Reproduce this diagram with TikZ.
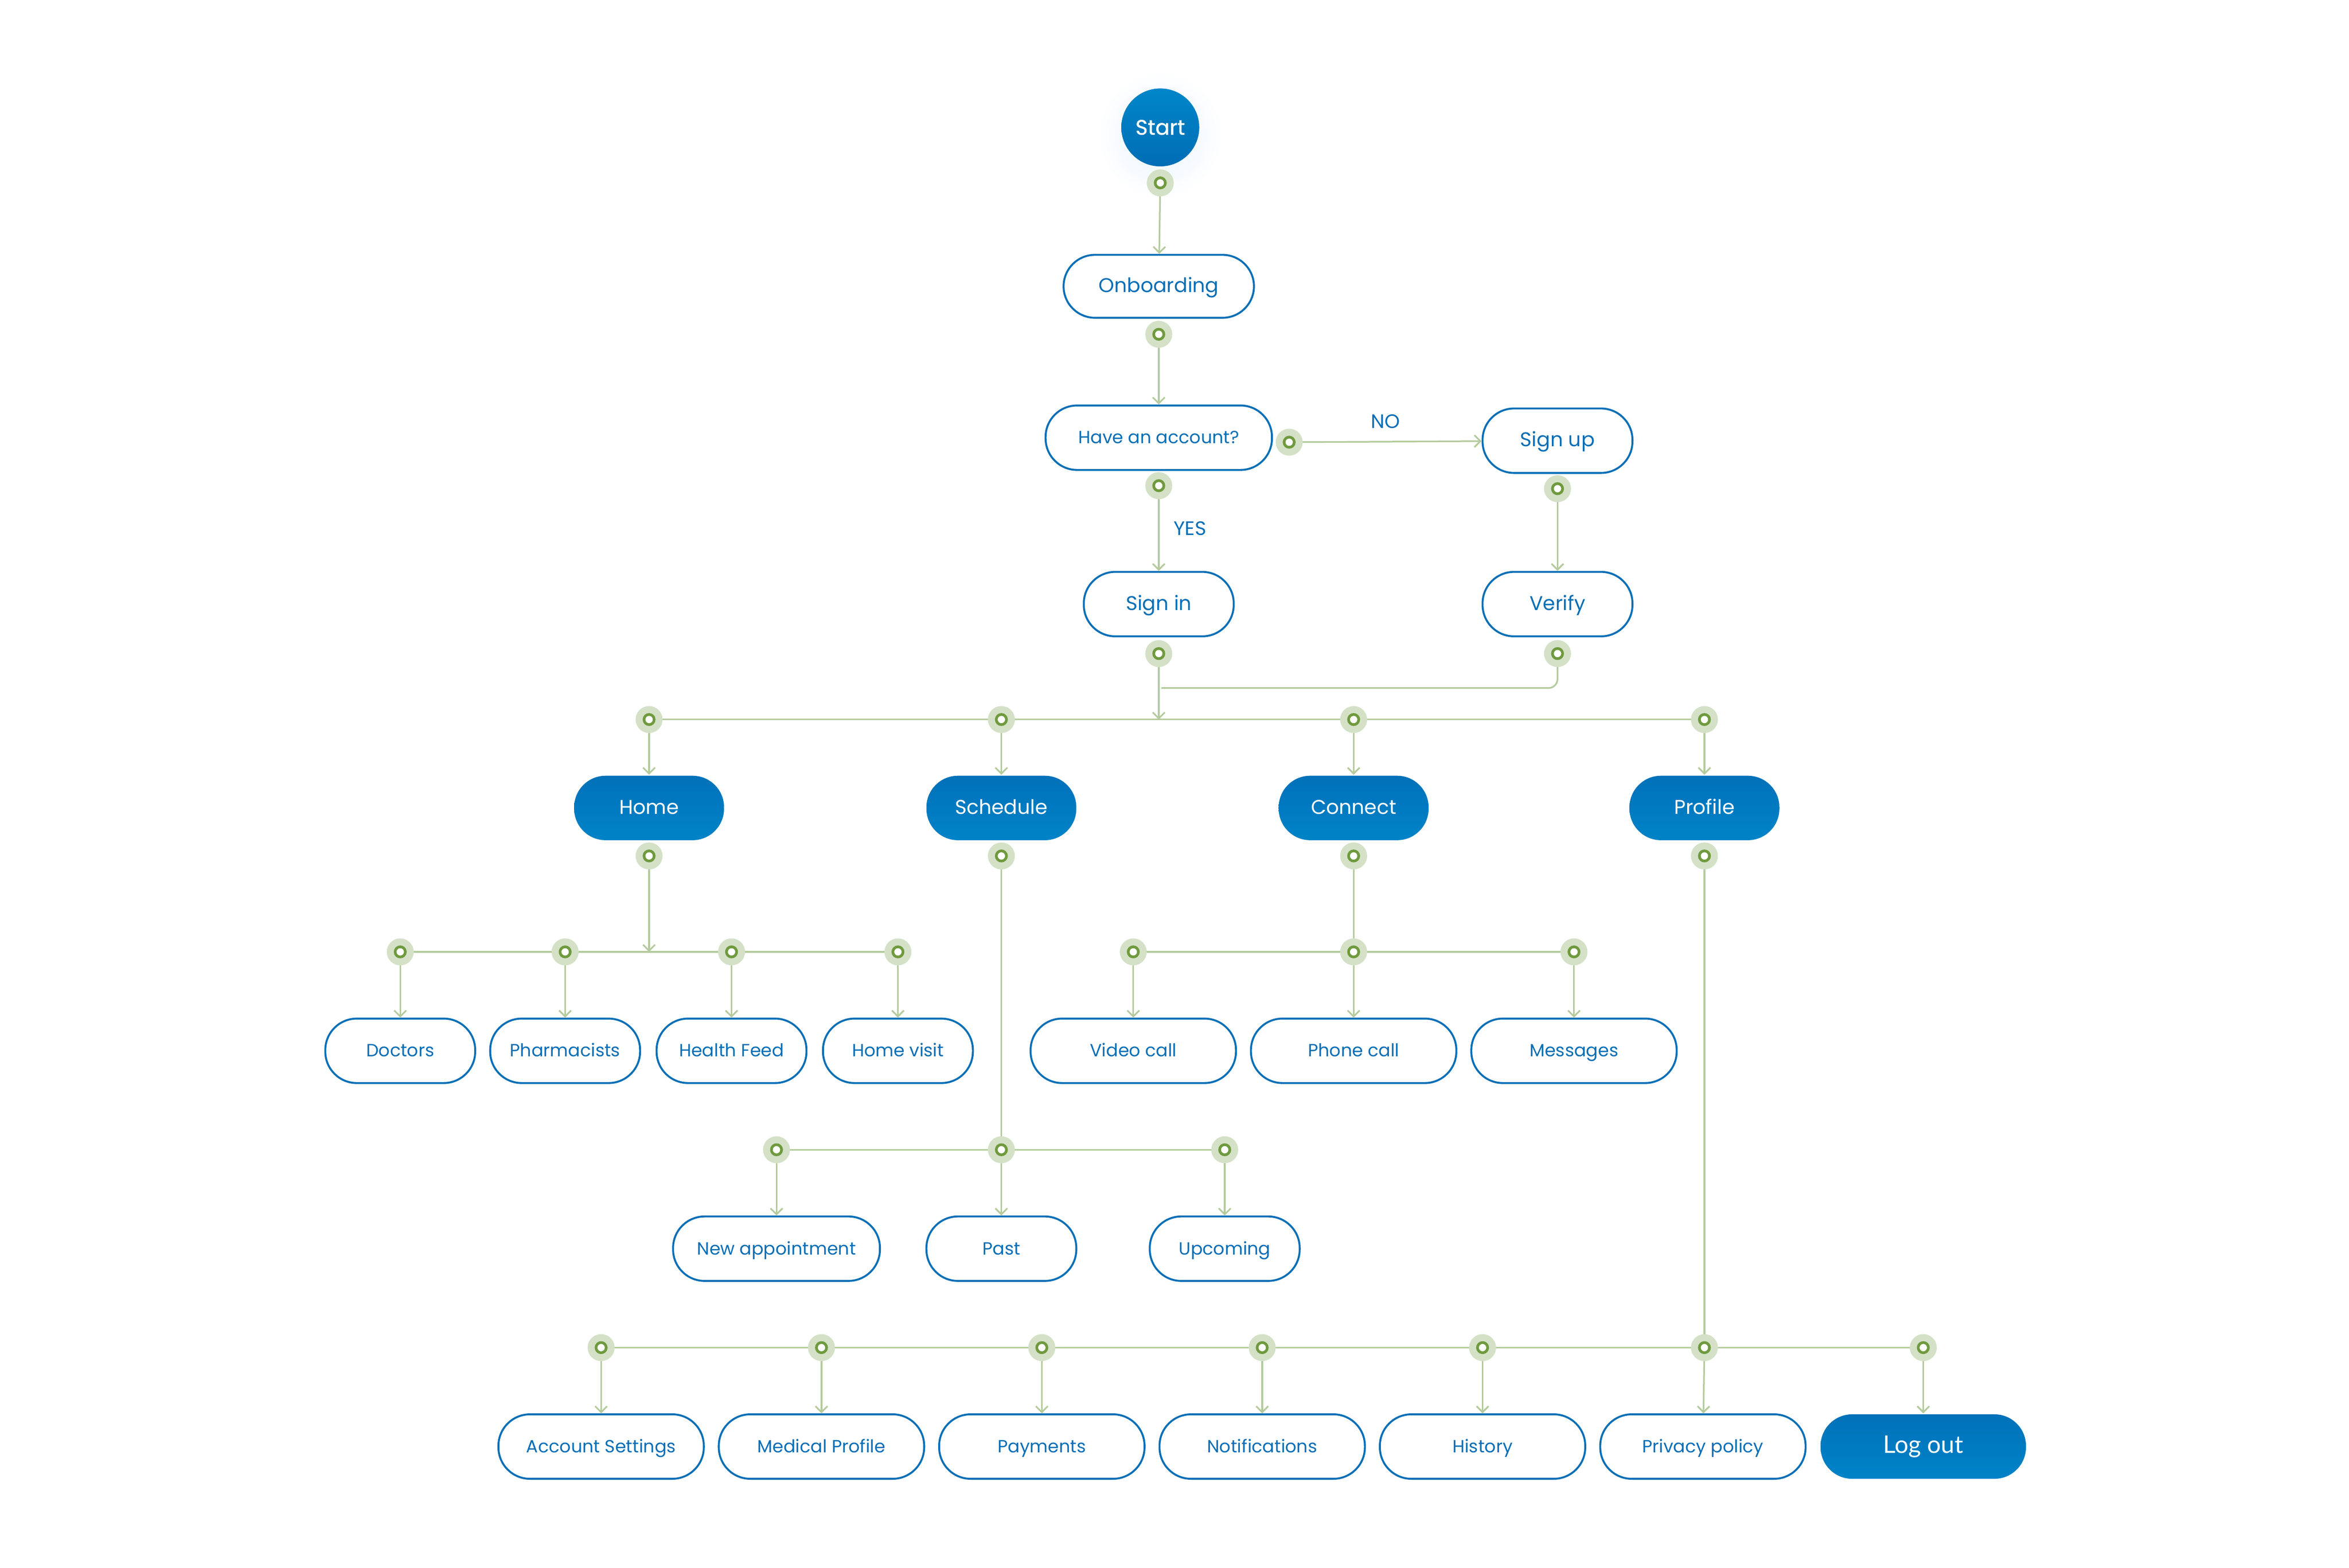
\documentclass[tikz,border=0pt]{standalone}
\usepackage{fontspec}
\setmainfont{Poppins}
\newfontfamily\logfont{Lato}
\newfontfamily\startfont[FakeBold=1]{Poppins}
\usetikzlibrary{arrows.meta}
\definecolor{flowblue}{HTML}{0A6FB6}
\definecolor{filltop}{HTML}{0071B9}
\definecolor{fillbot}{HTML}{0083C8}
\definecolor{starttop}{HTML}{0086C9}
\definecolor{startbot}{HTML}{006DB5}
\definecolor{glowblue}{HTML}{E6F2FD}
\definecolor{linkgreen}{HTML}{B5CB9D}
\definecolor{halogreen}{HTML}{D4E1C7}
\definecolor{ringgreen}{HTML}{6F9A3E}
\begin{document}
\begin{tikzpicture}[x=1pt,y=-1pt,line join=round,line cap=round,
	flowbox/.style={draw=flowblue,line width=1.3pt,rounded corners=21pt,minimum width=100pt,minimum height=43pt,
		inner sep=0pt,text=flowblue,text height=0.9em,text depth=0.1em,font=\fontsize{13.3}{15}\selectfont},
	smalltext/.style={font=\fontsize{11.8}{13}\selectfont},
	fillbox/.style={flowbox,draw=none,top color=filltop,bottom color=fillbot,text=white},
	startnode/.style={circle,minimum size=52pt,inner sep=0pt,top color=starttop,bottom color=startbot,
		text=white,font=\startfont\fontsize{14}{15}\selectfont},
	link/.style={draw=linkgreen,line width=1.1pt},
	arr/.style={link,-{Straight Barb[length=4pt,width=8pt]}},
	lbl/.style={text=flowblue,font=\fontsize{13}{15}\selectfont}]
	\fill[white] (0,0) rectangle (1567,1046);
	\useasboundingbox (0,0) rectangle (1567,1046);
	% start and sign in
	\shade[inner color=glowblue,outer color=white] (774,90) circle (42pt);
	\node[startnode] (start) at (774,85) {Start};
	\node[flowbox,minimum width=127pt,minimum height=42pt] (onb) at (773,191) {Onboarding};
	\node[flowbox,smalltext,minimum width=151pt] (have) at (773,292) {Have an account?};
	\node[flowbox] (signup) at (1039,294) {Sign up};
	\node[flowbox] (signin) at (773,403) {Sign in};
	\node[flowbox] (verify) at (1039,403) {Verify};
	% tabs
	\node[fillbox] (home) at (433,539) {Home};
	\node[fillbox] (sched) at (668,539) {Schedule};
	\node[fillbox] (conn) at (903,539) {Connect};
	\node[fillbox] (prof) at (1137,539) {Profile};
	% home
	\node[flowbox,smalltext] (doctors) at (267,701) {Doctors};
	\node[flowbox,smalltext] (pharm) at (377,701) {Pharmacists};
	\node[flowbox,smalltext] (feed) at (488,701) {Health Feed};
	\node[flowbox,smalltext] (visit) at (599,701) {Home visit};
	% connect
	\node[flowbox,smalltext,minimum width=137pt] (video) at (756,701) {Video call};
	\node[flowbox,smalltext,minimum width=137pt] (phone) at (903,701) {Phone call};
	\node[flowbox,smalltext,minimum width=137pt] (msg) at (1050,701) {Messages};
	% schedule
	\node[flowbox,smalltext,minimum width=138pt] (newapp) at (518,833) {New appointment};
	\node[flowbox,smalltext] (past) at (668,833) {Past};
	\node[flowbox,smalltext] (upc) at (817,833) {Upcoming};
	% profile
	\node[flowbox,smalltext,minimum width=137pt] (acc) at (401,965) {Account Settings};
	\node[flowbox,smalltext,minimum width=137pt] (med) at (548,965) {Medical Profile};
	\node[flowbox,smalltext,minimum width=137pt] (pay) at (695,965) {Payments};
	\node[flowbox,smalltext,minimum width=137pt] (notif) at (842,965) {Notifications};
	\node[flowbox,smalltext,minimum width=137pt] (hist) at (989,965) {History};
	\node[flowbox,smalltext,minimum width=137pt] (priv) at (1136,965) {Privacy policy};
	\node[fillbox,minimum width=137pt,text height=0.95em,text depth=0.07em,
		font=\logfont\fontsize{16.2}{18}\selectfont] (logout) at (1283,965) {Log out};
	% dots
	\coordinate (dStart) at (774,122);
	\coordinate (dOnb) at (773,223);
	\coordinate (dHaveR) at (860,295);
	\coordinate (dHaveB) at (773,324);
	\coordinate (dSup) at (1039,326);
	\coordinate (dSin) at (773,436);
	\coordinate (dVer) at (1039,436);
	\coordinate (jSin) at (773,480);
	\coordinate (jVer) at (775,459);
	\coordinate (dHome) at (433,480);
	\coordinate (dSch) at (668,480);
	\coordinate (dCon) at (903,480);
	\coordinate (dPro) at (1137,480);
	\coordinate (dHomeB) at (433,571);
	\coordinate (dSchB) at (668,571);
	\coordinate (dConB) at (903,571);
	\coordinate (dProB) at (1137,571);
	\coordinate (jHome) at (433,635);
	\coordinate (dDoc) at (267,635);
	\coordinate (dPha) at (377,635);
	\coordinate (dHea) at (488,635);
	\coordinate (dVis) at (599,635);
	\coordinate (dVid) at (756,635);
	\coordinate (dPho) at (903,635);
	\coordinate (dMsg) at (1050,635);
	\coordinate (dNew) at (518,767);
	\coordinate (dPast) at (668,767);
	\coordinate (dUpc) at (817,767);
	\coordinate (dAcc) at (401,899);
	\coordinate (dMed) at (548,899);
	\coordinate (dPay) at (695,899);
	\coordinate (dNot) at (842,899);
	\coordinate (dHis) at (989,899);
	\coordinate (dPri) at (1137,899);
	\coordinate (dLog) at (1283,899);
	% links
	\draw[arr] (dStart) -- (onb);
	\draw[arr] (dOnb) -- (have);
	\draw[arr] (dHaveR) -- (signup) node[lbl,midway,above=5pt] {NO};
	\draw[arr] (dHaveB) -- (signin) node[lbl,midway,right=6pt] {YES};
	\draw[arr] (dSup) -- (verify);
	\draw[arr] (dSin) -- (jSin);
	\draw[link,rounded corners=6pt] (dVer) |- (jVer);
	\draw[link] (dHome) -- (dPro);
	\foreach \d/\n in {dHome/home,dSch/sched,dCon/conn,dPro/prof}
		\draw[arr] (\d) -- (\n);
	\draw[arr] (dHomeB) -- (jHome);
	\draw[link] (dDoc) -- (dVis);
	\foreach \d/\n in {dDoc/doctors,dPha/pharm,dHea/feed,dVis/visit}
		\draw[arr] (\d) -- (\n);
	\draw[link] (dConB) -- (dPho);
	\draw[link] (dVid) -- (dMsg);
	\foreach \d/\n in {dVid/video,dPho/phone,dMsg/msg}
		\draw[arr] (\d) -- (\n);
	\draw[link] (dSchB) -- (dPast);
	\draw[link] (dNew) -- (dUpc);
	\foreach \d/\n in {dNew/newapp,dPast/past,dUpc/upc}
		\draw[arr] (\d) -- (\n);
	\draw[link] (dProB) -- (dPri);
	\draw[link] (dAcc) -- (dLog);
	\foreach \d/\n in {dAcc/acc,dMed/med,dPay/pay,dNot/notif,dHis/hist,dPri/priv,dLog/logout}
		\draw[arr] (\d) -- (\n);
	% dot marks
	\foreach \d in {dStart,dOnb,dHaveR,dHaveB,dSup,dSin,dVer,dHome,dSch,dCon,dPro,dHomeB,dSchB,dConB,dProB,
		dDoc,dPha,dHea,dVis,dVid,dPho,dMsg,dNew,dPast,dUpc,dAcc,dMed,dPay,dNot,dHis,dPri,dLog}{
		\fill[halogreen] (\d) circle (9pt);
		\draw[ringgreen,fill=white,line width=1.8pt] (\d) circle (3.4pt);
	}
\end{tikzpicture}
\end{document}
